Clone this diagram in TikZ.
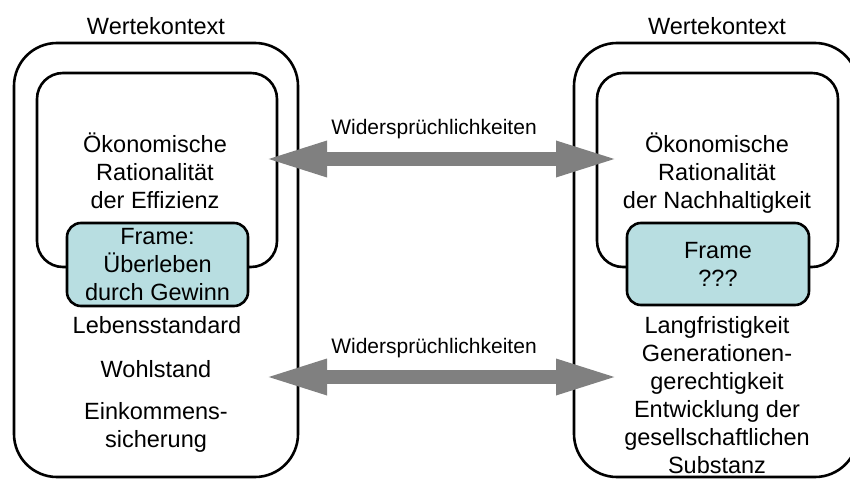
\documentclass[tikz,border=0pt]{standalone}
\usepackage{fontspec}
\setmainfont{Liberation Sans}
\usetikzlibrary{arrows.meta}
\definecolor{framefill}{HTML}{B8DEE1}
\definecolor{arrowgray}{HTML}{808080}
\begin{document}
\begin{tikzpicture}[x=1pt,y=-1pt,
  boxline/.style={draw=black, line width=2.6pt, inner sep=0pt},
  outerbox/.style={boxline, rounded corners=43pt, minimum width=284pt, minimum height=434pt},
  innerbox/.style={boxline, rounded corners=26pt, minimum width=240pt, minimum height=194pt},
  framebox/.style={boxline, fill=framefill, rounded corners=14pt, minimum width=181pt, minimum height=83pt, align=center, font=\fontsize{23.5}{28}\selectfont},
  txt/.style={font=\fontsize{23.5}{28}\selectfont, align=center, inner sep=0pt, anchor=base},
  lbl/.style={font=\fontsize{21}{25}\selectfont, inner sep=0pt, anchor=base},
  fatarrow/.style={draw=arrowgray, line width=14pt, {Triangle[length=64pt,width=32pt]}-{Triangle[length=64pt,width=32pt]}}]
\useasboundingbox (0,0) rectangle (850,481);
% boxes
\node[outerbox] (outerL) at (156,260) {};
\node[outerbox] (outerR) at (716,260) {};
\node[innerbox] (innerL) at (157,170) {};
\node[innerbox, minimum width=241pt] (innerR) at (717.5,170) {};
\node[framebox] (frameL) at (157.5,264.5) {Frame:\\Überleben\\durch Gewinn};
\node[framebox, minimum width=182pt, minimum height=82pt] (frameR) at (718,264) {Frame\\???};
% titles
\node[txt] (wkL) at (156,35) {Wertekontext};
\node[txt] (wkR) at (717,35) {Wertekontext};
% rationality texts (base = last line)
\node[txt] (ratL) at (155,208) {Ökonomische\\Rationalität\\der Effizienz};
\node[txt] (ratR) at (717,208) {Ökonomische\\Rationalität\\der Nachhaltigkeit};
% values left
\node[txt] (lebens) at (157,333) {Lebensstandard};
\node[txt] (wohl) at (156,377) {Wohlstand};
\node[txt] (eink) at (156,447) {Einkommens-\\sicherung};
% values right
\node[txt] (lang) at (717,473) {Langfristigkeit\\Generationen-\\gerechtigkeit\\Entwicklung der\\gesellschaftlichen\\Substanz};
% arrows
\coordinate (a1L) at (263,159);
\coordinate (a1R) at (620,159);
\coordinate (a2L) at (263,377);
\coordinate (a2R) at (620,377);
\draw[fatarrow] (a1L) -- (a1R);
\draw[fatarrow] (a2L) -- (a2R);
\node[lbl] (w1) at (434,135) {Widersprüchlichkeiten};
\node[lbl] (w2) at (434,353) {Widersprüchlichkeiten};
\end{tikzpicture}
\end{document}
